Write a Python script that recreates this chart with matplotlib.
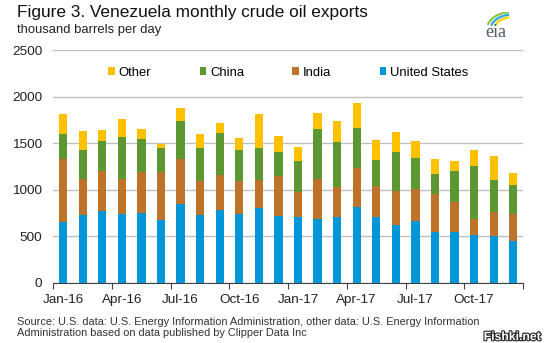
import numpy as np
import matplotlib
matplotlib.use("Agg")
import matplotlib.pyplot as plt
import matplotlib.patheffects as pe
from matplotlib.patches import Arc

plt.rcParams['font.family'] = ['Liberation Sans', 'DejaVu Sans']

# months Jan-16 .. Dec-17, thousand barrels per day
months = ['Jan-16', 'Feb-16', 'Mar-16', 'Apr-16', 'May-16', 'Jun-16', 'Jul-16', 'Aug-16',
          'Sep-16', 'Oct-16', 'Nov-16', 'Dec-16', 'Jan-17', 'Feb-17', 'Mar-17', 'Apr-17',
          'May-17', 'Jun-17', 'Jul-17', 'Aug-17', 'Sep-17', 'Oct-17', 'Nov-17', 'Dec-17']
us = [648, 731, 770, 742, 749, 670, 849, 724, 778, 735, 799, 720,
      709, 681, 702, 810, 706, 623, 663, 548, 545, 509, 502, 444]
india = [681, 380, 430, 376, 437, 516, 477, 369, 376, 358, 308, 423,
         269, 430, 330, 426, 330, 362, 340, 405, 322, 179, 258, 294]
china = [265, 319, 326, 448, 358, 262, 408, 355, 458, 337, 341, 265,
         330, 544, 484, 427, 286, 423, 337, 219, 337, 562, 344, 308]
other = [219, 197, 119, 197, 111, 43, 140, 146, 104, 125, 365, 169,
         150, 172, 222, 272, 215, 212, 183, 161, 107, 172, 258, 136]

series = [('United States', us, '#0096D7'),
          ('India', india, '#BD732A'),
          ('China', china, '#5D9732'),
          ('Other', other, '#FFC000')]

fig = plt.figure(figsize=(5.5, 3.43), dpi=100)
ax = fig.add_axes([0.097, 0.176, 0.854, 0.678])

x = np.arange(len(months))
bottom = np.zeros(len(months))
handles = {}
for name, vals, col in series:
    b = ax.bar(x, vals, width=0.42, bottom=bottom, color=col, label=name, zorder=3)
    handles[name] = b
    bottom += np.array(vals)

ax.set_xlim(-0.5, len(months) - 0.5)
ax.set_ylim(0, 2500)
ax.set_yticks(range(0, 2501, 500))
ax.yaxis.grid(True, color='#BFBFBF', linewidth=1)
ax.tick_params(axis='y', length=0, labelsize=9.7, pad=8, colors='#222222')

# tick marks between quarters, labels under each quarter's first month
ax.set_xticks(np.arange(-0.5, len(months), 3))
ax.set_xticklabels([])
ax.set_xticks(x[::3], minor=True)
ax.set_xticklabels(months[::3], minor=True)
ax.tick_params(axis='x', which='major', length=4, direction='out', color='#404040')
ax.tick_params(axis='x', which='minor', length=0, labelsize=9.7, pad=8, colors='#222222')

for s in ['left', 'right', 'top']:
    ax.spines[s].set_visible(False)
ax.spines['bottom'].set_color('#404040')

order = ['Other', 'China', 'India', 'United States']
ax.legend([handles[n] for n in order], order, loc='center',
          bbox_to_anchor=(0.5, 0.903), ncol=4, frameon=False, fontsize=9.4,
          handlelength=0.5, handleheight=0.5, handletextpad=0.3, columnspacing=3.7)

fig.text(0.031, 0.965, 'Figure 3. Venezuela monthly crude oil exports', fontsize=12.4,
         va='center', color='#111111')
fig.text(0.031, 0.913, 'thousand barrels per day', fontsize=9.4, va='center', color='#222222')

fig.text(0.031, 0.061, 'Source: U.S. data: U.S. Energy Information Administration, other data: U.S. Energy Information',
         fontsize=7.9, va='center', color='#333333')
fig.text(0.031, 0.029, 'Administration based on data published by Clipper Data Inc',
         fontsize=7.9, va='center', color='#333333')

# eia logo
fig.text(0.902, 0.906, 'eia', fontsize=13, family='Liberation Serif', color='#4d5a66',
         va='center', ha='center')
lax = fig.add_axes([0.885, 0.925, 0.045, 0.04])
lax.set_xlim(0, 1)
lax.set_ylim(0, 1)
lax.axis('off')
for r, col in [(1.0, '#8DC63F'), (0.85, '#29A9E0'), (0.7, '#FFD200')]:
    lax.add_patch(Arc((1.0, -0.3), 2 * r, 2.6 * r, theta1=95, theta2=160, color=col, lw=1.6))

fig.text(0.984, 0.017, 'Fishki.net', fontsize=8.8, ha='right', va='center', color='white',
         weight='bold', path_effects=[pe.withStroke(linewidth=1.6, foreground='#222222')])

fig.savefig('out.png', dpi=100)
